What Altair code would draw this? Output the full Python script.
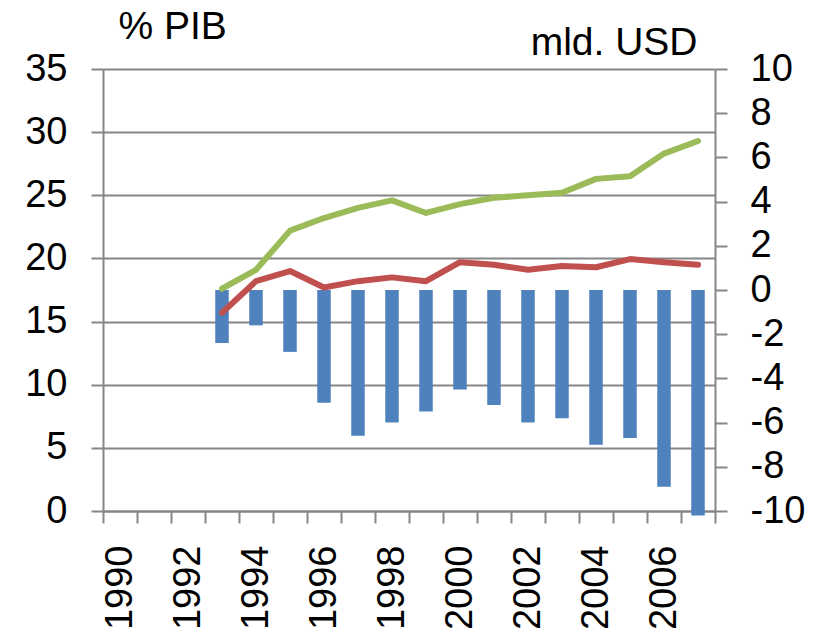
import altair as alt
import pandas as pd

years = list(range(1990, 2008))
data_years = list(range(1993, 2008))
balance = [-2.4, -1.6, -2.8, -5.1, -6.6, -6.0, -5.5, -4.5, -5.2, -6.0, -5.8, -7.0, -6.7, -8.9, -10.2]
green_series = [17.6, 19.1, 22.2, 23.2, 24.0, 24.6, 23.6, 24.3, 24.8, 25.0, 25.2, 26.3, 26.5, 28.3, 29.3]
red_series = [15.7, 18.2, 19.0, 17.7, 18.2, 18.5, 18.2, 19.7, 19.5, 19.1, 19.4, 19.3, 19.95, 19.7, 19.5]
left_ticks = [0, 5, 10, 15, 20, 25, 30, 35]
right_ticks = [-10, -8, -6, -4, -2, 0, 2, 4, 6, 8, 10]

FONT = "Liberation Sans"
GRAY = "#868686"

bars_df = pd.DataFrame({"year": data_years, "value": balance})
lines_df = pd.DataFrame({
    "year": data_years * 2,
    "value": green_series + red_series,
    "series": ["g"] * len(data_years) + ["r"] * len(data_years),
})

x_enc = alt.X(
    "year:O",
    scale=alt.Scale(domain=years, paddingInner=0, paddingOuter=0),
    axis=alt.Axis(
        title=None,
        labelAngle=-90,
        labelFont=FONT,
        labelFontSize=38,
        labelColor="black",
        labelPadding=22,
        labelExpr="datum.value % 2 == 0 ? datum.label : ''",
        tickBand="extent",
        tickSize=12,
        tickColor=GRAY,
        tickWidth=2,
        domainColor=GRAY,
        domainWidth=2,
        grid=False,
    ),
)

bars = alt.Chart(bars_df).mark_bar(size=13.5, color="#4F81BD").encode(
    x=x_enc,
    y=alt.Y(
        "value:Q",
        scale=alt.Scale(domain=[-10, 10], nice=False, zero=False),
        axis=alt.Axis(
            orient="right",
            values=right_ticks,
            labelExpr="toString(datum.value)",
            grid=False,
            title="mld. USD",
            titleFont=FONT,
            titleFontSize=39,
            titleFontWeight="normal",
            titleColor="black",
            titleAngle=0,
            titleAlign="right",
            titleBaseline="alphabetic",
            titleX=-18,
            titleY=-15,
            labelFont=FONT,
            labelFontSize=38,
            labelColor="black",
            labelPadding=23,
            labelAlign="left",
            tickSize=12,
            tickColor=GRAY,
            tickWidth=2,
            domainColor=GRAY,
            domainWidth=2,
        ),
    ),
)

lines = alt.Chart(lines_df).mark_line(strokeWidth=6, strokeCap="round", strokeJoin="round").encode(
    x=alt.X("year:O", scale=alt.Scale(domain=years, paddingInner=0, paddingOuter=0)),
    y=alt.Y(
        "value:Q",
        scale=alt.Scale(domain=[0, 35], nice=False),
        axis=alt.Axis(
            orient="left",
            values=left_ticks,
            grid=True,
            gridColor=GRAY,
            gridWidth=2,
            title="% PIB",
            titleFont=FONT,
            titleFontSize=39,
            titleFontWeight="normal",
            titleColor="black",
            titleAngle=0,
            titleAlign="left",
            titleBaseline="alphabetic",
            titleX=15,
            titleY=-31,
            labelFont=FONT,
            labelFontSize=38,
            labelColor="black",
            labelPadding=24,
            tickSize=12,
            tickColor=GRAY,
            tickWidth=2,
            domainColor=GRAY,
            domainWidth=2,
        ),
    ),
    color=alt.Color(
        "series:N",
        scale=alt.Scale(domain=["g", "r"], range=["#9BBB59", "#C0504D"]),
        legend=None,
    ),
)

chart = (
    alt.layer(bars, lines)
    .resolve_scale(y="independent")
    .properties(
        width=612,
        height=442,
        autosize=alt.AutoSizeParams(type="none"),
        padding={"left": 95, "top": 61, "right": 98, "bottom": 120},
    )
    .configure_view(stroke=None)
)

chart.save("out.html", embed_options={"renderer": "svg", "actions": False})
